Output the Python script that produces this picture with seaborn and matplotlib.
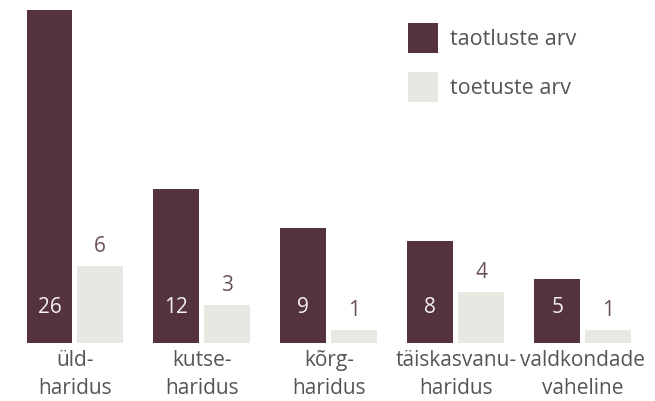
import matplotlib
matplotlib.use("Agg")
import matplotlib.pyplot as plt
import seaborn as sns
import pandas as pd

categories = ["üld-\nharidus", "kutse-\nharidus", "kõrg-\nharidus", "täiskasvanu-\nharidus", "valdkondade\nvaheline"]
taotlused = [26, 12, 9, 8, 5]
toetused = [6, 3, 1, 4, 1]
series_names = ["taotluste arv", "toetuste arv"]

dark = "#54333f"
light = "#e8e7e2"
text_col = "#555555"

sns.set_theme(style="white")
plt.rcParams["font.family"] = ["Open Sans", "DejaVu Sans"]

df = pd.DataFrame({
    "kategooria": categories * 2,
    "arv": taotlused + toetused,
    "seeria": [series_names[0]] * len(categories) + [series_names[1]] * len(categories),
})

fig = plt.figure(figsize=(6.55, 4.01), dpi=100)
ax = fig.add_axes([0, 58 / 401, 1, 343 / 401])

sns.barplot(data=df, x="kategooria", y="arv", hue="seeria",
            palette=[dark, light], width=0.8, gap=0.095,
            saturation=1, ax=ax, legend=True, errorbar=None, linewidth=0)

ax.set_xlim(-0.59, 4.57)
ax.set_ylim(0, 26.8)
ax.set_xlabel("")
ax.set_ylabel("")
ax.set_yticks([])
for s in ax.spines.values():
    s.set_visible(False)
ax.tick_params(axis="x", length=0, pad=5, labelsize=15, labelcolor=text_col)
for lbl in ax.get_xticklabels():
    lbl.set_linespacing(1.45)

# value labels
c_dark, c_light = ax.containers[0], ax.containers[1]
for bar, v in zip(c_dark, taotlused):
    ax.annotate(str(v), (bar.get_x() + bar.get_width() / 2, 0),
                xytext=(0, 25.5), textcoords="offset points",
                ha="center", va="center", fontsize=15, color="#f3f0f0")
for bar, v in zip(c_light, toetused):
    ax.annotate(str(v), (bar.get_x() + bar.get_width() / 2, bar.get_height()),
                xytext=(0, 14), textcoords="offset points",
                ha="center", va="center", fontsize=15, color="#6a5058")

handles, labels = ax.get_legend_handles_labels()
ax.legend(handles, labels, loc="upper left", bbox_to_anchor=(408 / 655, 1 - 23 / 401),
          bbox_transform=fig.transFigure, frameon=False, fontsize=15.5,
          handlelength=1.4, handleheight=1.77, handletextpad=0.55,
          labelspacing=0.9, borderpad=0, borderaxespad=0, labelcolor=text_col)

fig.savefig("out.png", dpi=100)
